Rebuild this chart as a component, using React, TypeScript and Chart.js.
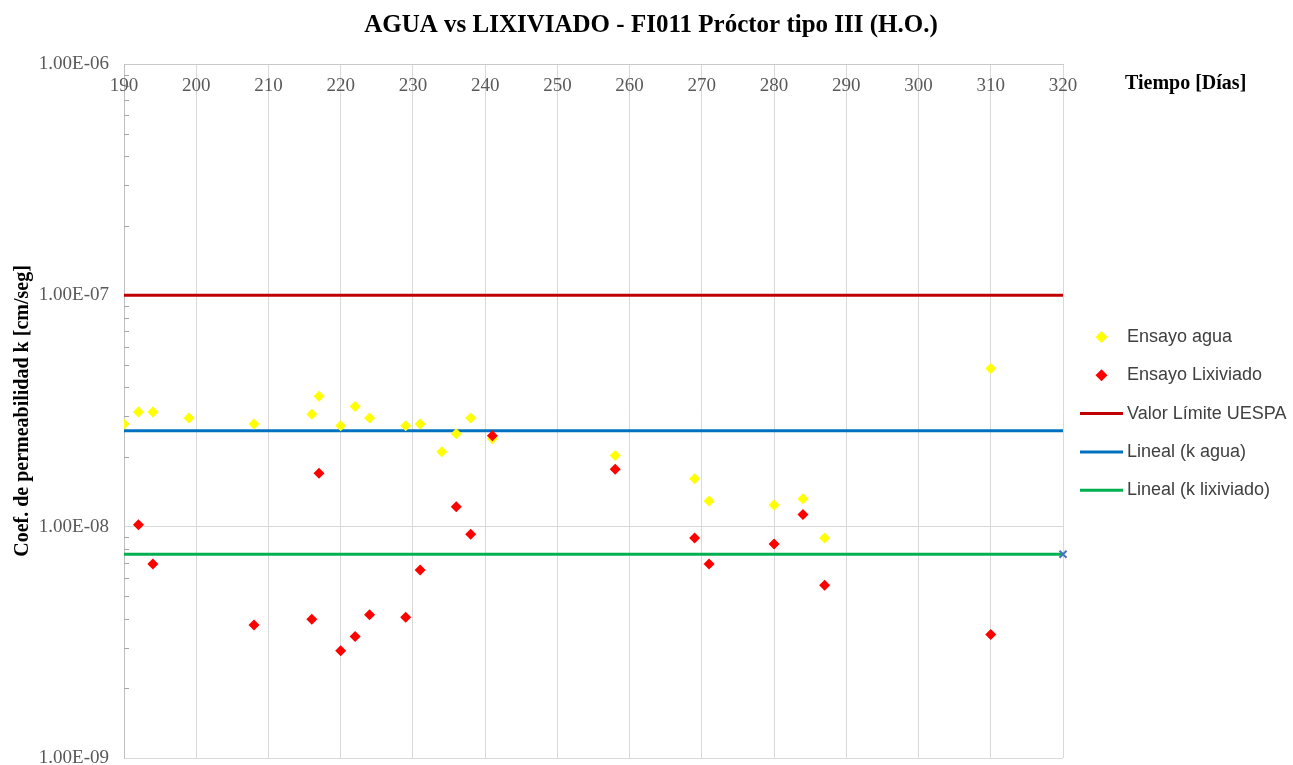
import React, { useEffect, useRef } from 'react';
import { Chart, registerables } from 'chart.js';

Chart.register(...registerables);

// Texts
const chartTitle = 'AGUA vs LIXIVIADO - FI011 Próctor tipo III (H.O.)';
const xAxisTitle = 'Tiempo [Días]';
const yAxisTitle = 'Coef. de permeabilidad k [cm/seg]';

// Axis ticks
const xTickValues = [190, 200, 210, 220, 230, 240, 250, 260, 270, 280, 290, 300, 310, 320];
const yTickValues = [1e-9, 1e-8, 1e-7, 1e-6];
const yTickLabels = ['1.00E-09', '1.00E-08', '1.00E-07', '1.00E-06'];

// Water permeability tests
const diasAgua = [190, 192, 194, 199, 208, 216, 217, 220, 222, 224, 229, 231, 234, 236, 238, 241, 258, 269, 271, 280, 284, 287, 310];
const kAgua = [2.78e-8, 3.13e-8, 3.13e-8, 2.95e-8, 2.78e-8, 3.06e-8, 3.66e-8, 2.73e-8, 3.31e-8, 2.95e-8, 2.73e-8, 2.78e-8, 2.11e-8, 2.52e-8, 2.95e-8, 2.4e-8, 2.03e-8, 1.61e-8, 1.29e-8, 1.24e-8, 1.32e-8, 8.94e-9, 4.83e-8];

// Leachate permeability tests
const diasLixiviado = [192, 194, 208, 216, 217, 220, 222, 224, 229, 231, 236, 238, 241, 258, 269, 271, 280, 284, 287, 310];
const kLixiviado = [1.02e-8, 6.9e-9, 3.76e-9, 3.98e-9, 1.7e-8, 2.91e-9, 3.35e-9, 4.16e-9, 4.06e-9, 6.5e-9, 1.22e-8, 9.27e-9, 2.47e-8, 1.77e-8, 8.94e-9, 6.9e-9, 8.42e-9, 1.13e-8, 5.58e-9, 3.42e-9];

// Reference lines
const lineRange = [190, 320];
const limiteUESPA = 1e-7;
const tendenciaAgua = 2.6e-8;
const tendenciaLixiviado = 7.6e-9;

const legendNames = ['Ensayo agua', 'Ensayo Lixiviado', 'Valor Límite UESPA', 'Lineal (k agua)', 'Lineal (k lixiviado)'];

const YELLOW = '#FFFF00';
const RED = '#FF0000';
const DARK_RED = '#C00000';
const BLUE = '#0070C0';
const GREEN = '#00B050';

const serif = '"Liberation Serif", "Times New Roman", serif';
const sans = '"Liberation Sans", Arial, sans-serif';

const decorations = {
  id: 'decorations',
  beforeDatasetsDraw(chart: any) {
    const { ctx, chartArea, scales } = chart;
    const x = scales.x;
    const y = scales.y;
    ctx.save();
    // minor tick marks on the value axis, inside the plot
    ctx.strokeStyle = '#a6a6a6';
    ctx.lineWidth = 1;
    for (let i = 0; i < yTickValues.length - 1; i++) {
      for (let m = 2; m <= 9; m++) {
        const py = Math.round(y.getPixelForValue(yTickValues[i] * m)) + 0.5;
        ctx.beginPath();
        ctx.moveTo(chartArea.left, py);
        ctx.lineTo(chartArea.left + 5, py);
        ctx.stroke();
      }
    }
    // time tick labels, drawn just under the top axis line
    ctx.font = `19px ${serif}`;
    ctx.fillStyle = '#595959';
    ctx.textAlign = 'center';
    ctx.textBaseline = 'middle';
    xTickValues.forEach((v) => {
      ctx.fillText(String(v), x.getPixelForValue(v), chartArea.top + 22);
    });
    ctx.restore();
  },
  afterDraw(chart: any) {
    const { ctx, chartArea } = chart;
    ctx.save();
    // title
    ctx.fillStyle = '#000000';
    ctx.font = `bold 25px ${serif}`;
    ctx.textAlign = 'center';
    ctx.textBaseline = 'middle';
    ctx.fillText(chartTitle, 651, 26);
    // time axis title
    ctx.font = `bold 20px ${serif}`;
    ctx.textAlign = 'left';
    ctx.fillText(xAxisTitle, chartArea.right + 62, chartArea.top + 20);

    // legend
    const styles = [
      { kind: 'point', color: YELLOW },
      { kind: 'point', color: RED },
      { kind: 'line', color: DARK_RED },
      { kind: 'line', color: BLUE },
      { kind: 'line', color: GREEN },
    ];
    const sx0 = chartArea.right + 17;
    const sx1 = chartArea.right + 60;
    const tx = chartArea.right + 64;
    ctx.font = `18px ${sans}`;
    ctx.textBaseline = 'middle';
    legendNames.forEach((name, i) => {
      const cy = 337 + i * 38.3;
      const s = styles[i];
      if (s.kind === 'point') {
        const cx = (sx0 + sx1) / 2;
        const r = 6;
        ctx.fillStyle = s.color;
        ctx.beginPath();
        ctx.moveTo(cx - r, cy);
        ctx.lineTo(cx, cy - r);
        ctx.lineTo(cx + r, cy);
        ctx.lineTo(cx, cy + r);
        ctx.closePath();
        ctx.fill();
      } else {
        ctx.strokeStyle = s.color;
        ctx.lineWidth = 3;
        ctx.beginPath();
        ctx.moveTo(sx0, cy);
        ctx.lineTo(sx1, cy);
        ctx.stroke();
      }
      ctx.fillStyle = '#404040';
      ctx.fillText(name, tx, cy);
    });
    ctx.restore();
  },
};

export default function App() {
  const canvasRef = useRef<HTMLCanvasElement | null>(null);

  useEffect(() => {
    const canvas = canvasRef.current;
    if (!canvas) return;

    const flat = (value: number) => lineRange.map((d) => ({ x: d, y: value }));

    const chart = new Chart(canvas, {
      type: 'scatter',
      data: {
        datasets: [
          {
            label: legendNames[0],
            data: diasAgua.map((d, i) => ({ x: d, y: kAgua[i] })),
            pointStyle: 'rectRot',
            pointRadius: 5.5,
            pointBorderWidth: 0,
            backgroundColor: YELLOW,
            borderColor: YELLOW,
            order: 2,
          },
          {
            label: legendNames[1],
            data: diasLixiviado.map((d, i) => ({ x: d, y: kLixiviado[i] })),
            pointStyle: 'rectRot',
            pointRadius: 5.5,
            pointBorderWidth: 0,
            backgroundColor: RED,
            borderColor: RED,
            order: 1,
          },
          {
            type: 'line',
            label: legendNames[2],
            data: flat(limiteUESPA),
            borderColor: DARK_RED,
            borderWidth: 3,
            pointRadius: 0,
            order: 5,
          },
          {
            type: 'line',
            label: legendNames[3],
            data: flat(tendenciaAgua),
            borderColor: BLUE,
            borderWidth: 3,
            pointRadius: 0,
            order: 4,
          },
          {
            type: 'line',
            label: legendNames[4],
            data: flat(tendenciaLixiviado),
            borderColor: GREEN,
            borderWidth: 3,
            pointRadius: 0,
            order: 3,
          },
          {
            label: 'fin',
            data: [{ x: lineRange[1], y: tendenciaLixiviado }],
            pointStyle: 'crossRot',
            pointRadius: 5,
            pointBorderWidth: 2,
            borderColor: '#4472C4',
            backgroundColor: '#4472C4',
            clip: false,
            order: 0,
          },
        ] as any,
      },
      options: {
        animation: false,
        responsive: false,
        layout: { padding: { top: 64, left: 0, right: 230, bottom: 4 } },
        plugins: {
          legend: { display: false },
          title: { display: false },
          tooltip: { enabled: false },
        },
        scales: {
          x: {
            type: 'linear',
            position: 'top',
            min: 190,
            max: 320,
            afterBuildTicks: (scale: any) => {
              scale.ticks = xTickValues.map((v) => ({ value: v }));
            },
            afterFit: (scale: any) => {
              scale.height = 0;
              scale.paddingLeft = 0;
              scale.paddingRight = 0;
            },
            ticks: { display: false },
            grid: { color: '#d9d9d9', lineWidth: 1, drawTicks: false },
            border: { display: true, color: '#c8c8c8', width: 1 },
          },
          y: {
            type: 'logarithmic',
            min: 1e-9,
            max: 1e-6,
            afterBuildTicks: (scale: any) => {
              scale.ticks = yTickValues.map((v) => ({ value: v }));
            },
            afterFit: (scale: any) => {
              scale.width = 124;
              scale.paddingTop = 0;
              scale.paddingBottom = 0;
            },
            ticks: {
              autoSkip: false,
              padding: 15,
              color: '#595959',
              font: { family: serif, size: 19 },
              callback: (value: any) => {
                const v = Number(value);
                let best = 0;
                yTickValues.forEach((t, i) => {
                  if (Math.abs(Math.log10(t) - Math.log10(v)) < Math.abs(Math.log10(yTickValues[best]) - Math.log10(v))) best = i;
                });
                return yTickLabels[best];
              },
            },
            grid: { color: '#d9d9d9', lineWidth: 1, drawTicks: false },
            border: { display: true, color: '#bfbfbf', width: 1 },
            title: {
              display: true,
              text: yAxisTitle,
              color: '#000000',
              font: { family: serif, size: 20, weight: 'bold' },
              padding: { top: 11, bottom: 0 },
            },
          },
        },
      } as any,
      plugins: [decorations],
    });

    return () => chart.destroy();
  }, []);

  return (
    <div style={{ position: 'fixed', left: 0, top: 0, width: 1293, height: 765, background: '#ffffff' }}>
      <canvas ref={canvasRef} width={1293} height={765} style={{ display: 'block' }} />
    </div>
  );
}
